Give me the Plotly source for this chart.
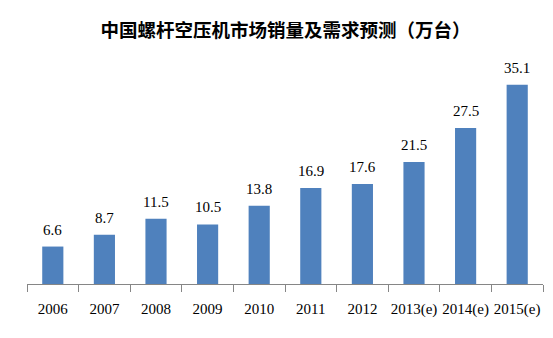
import plotly.graph_objects as go

categories = ["2006", "2007", "2008", "2009", "2010", "2011", "2012", "2013(e)", "2014(e)", "2015(e)"]
values = [6.6, 8.7, 11.5, 10.5, 13.8, 16.9, 17.6, 21.5, 27.5, 35.1]
title_text = "中国螺杆空压机市场销量及需求预测（万台）"

W, H = 553, 338
fig = go.Figure()
fig.add_trace(go.Bar(x=categories, y=values, marker=dict(color="#4F81BD", line=dict(width=0)),
                     hoverinfo="x+y"))

for i, v in enumerate(values):
    fig.add_annotation(x=i, y=v, xref="x", yref="y", text=f"{v:.1f}", showarrow=False, yanchor="bottom", yshift=7,
                       font=dict(family="Liberation Serif", size=15, color="#000000"))

fig.update_layout(
    width=W, height=H,
    margin=dict(l=27, r=10, t=57, b=54),
    paper_bgcolor="white", plot_bgcolor="white",
    bargap=0.59,
    showlegend=False,
    title=dict(text=title_text, x=285.5 / W, xanchor="center", xref="container", y=1 - 30.5 / H, yref="container", yanchor="middle",
               font=dict(family="Noto Sans CJK SC", size=18.5, color="#000000", weight="bold")),
    xaxis=dict(type="category", categoryorder="array", categoryarray=categories,
               showline=True, linecolor="#868686", linewidth=1,
               ticks="outside", tickson="boundaries", ticklen=7, tickcolor="#868686", tickwidth=1,
               tickangle=0, ticklabelstandoff=11,
               tickfont=dict(family="Liberation Serif", size=15, color="#000000"), showgrid=False),
    yaxis=dict(range=[0, 40], visible=False, showgrid=False, zeroline=False),
)
fig.write_html("out.html")
